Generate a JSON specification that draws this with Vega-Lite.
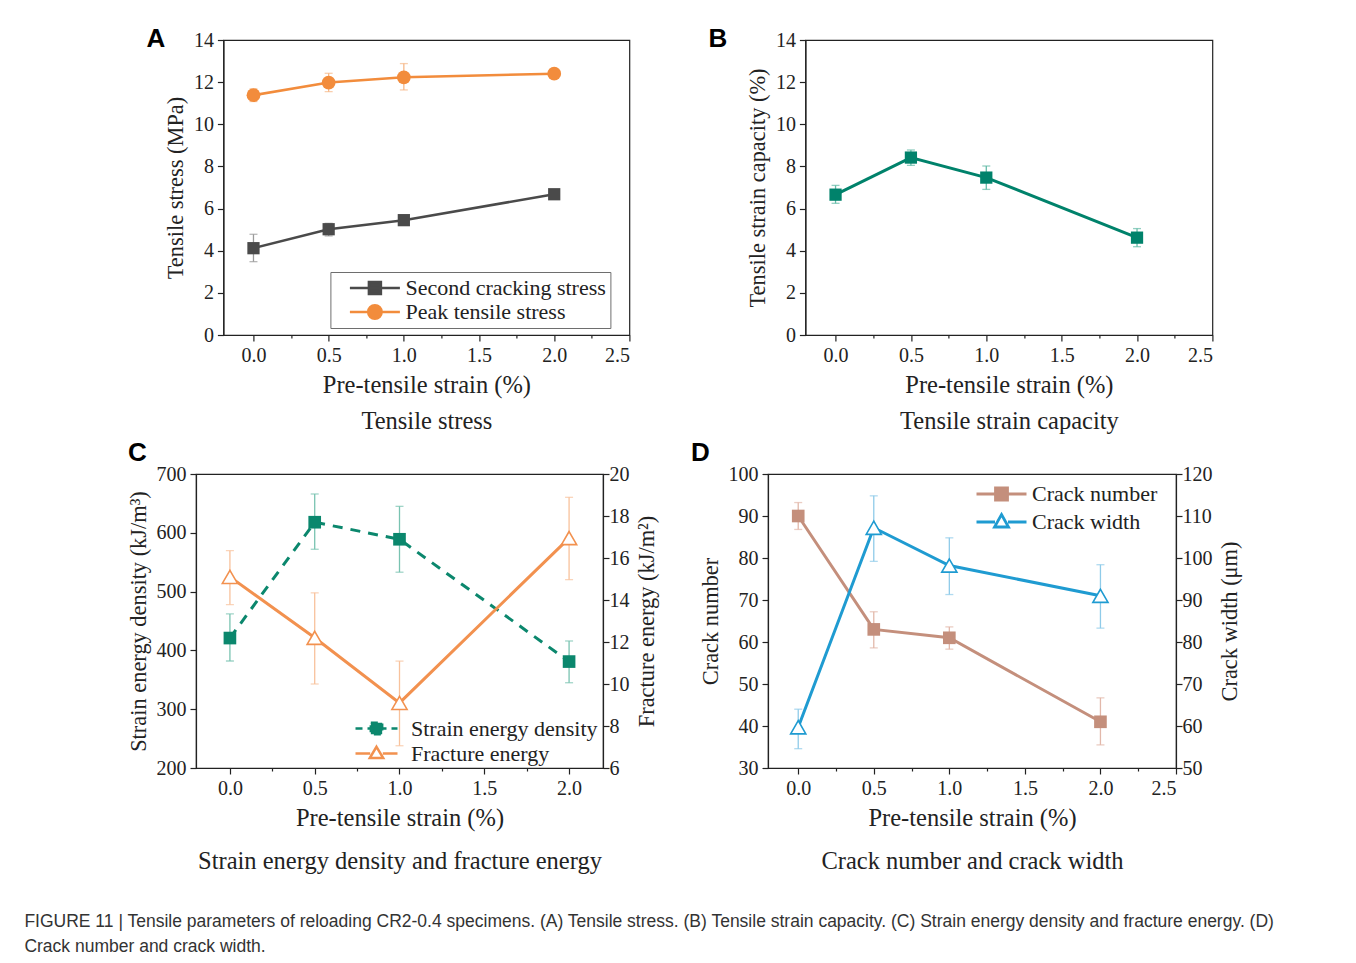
{
  "$schema": "https://vega.github.io/schema/vega-lite/v6.json",
  "background": "white",
  "padding": {"left": 24, "top": 25, "right": 5, "bottom": 5},
  "title": {
    "text": ["FIGURE 11 | Tensile parameters of reloading CR2-0.4 specimens. (A) Tensile stress. (B) Tensile strain capacity. (C) Strain energy density and fracture energy. (D)", "Crack number and crack width."],
    "orient": "bottom", "anchor": "start", "frame": "bounds", "dx": -102, "offset": 40,
    "font": "Liberation Sans", "fontSize": 17.5, "fontWeight": "normal", "lineHeight": 25, "color": "#333"
  },
  "datasets": {
    "a": [
      {"series": "Second cracking stress", "strain": 0, "value": 4.12, "lo": 3.48, "hi": 4.78},
      {"series": "Second cracking stress", "strain": 0.5, "value": 5.02, "lo": 4.7, "hi": 5.3},
      {"series": "Second cracking stress", "strain": 1, "value": 5.45, "lo": 5.35, "hi": 5.55},
      {"series": "Second cracking stress", "strain": 2, "value": 6.68, "lo": 6.6, "hi": 6.76},
      {"series": "Peak tensile stress", "strain": 0, "value": 11.38, "lo": 11.08, "hi": 11.68},
      {"series": "Peak tensile stress", "strain": 0.5, "value": 11.98, "lo": 11.55, "hi": 12.42},
      {"series": "Peak tensile stress", "strain": 1, "value": 12.23, "lo": 11.63, "hi": 12.88},
      {"series": "Peak tensile stress", "strain": 2, "value": 12.4, "lo": 12.33, "hi": 12.47}
    ],
    "b": [
      {"series": "Tensile strain capacity", "strain": 0, "value": 6.66, "lo": 6.25, "hi": 7.1},
      {"series": "Tensile strain capacity", "strain": 0.5, "value": 8.42, "lo": 8.05, "hi": 8.78},
      {"series": "Tensile strain capacity", "strain": 1, "value": 7.47, "lo": 6.91, "hi": 8.02},
      {"series": "Tensile strain capacity", "strain": 2, "value": 4.62, "lo": 4.19, "hi": 5.05}
    ],
    "c": [
      {"series": "Strain energy density", "strain": 0, "value": 421, "lo": 382, "hi": 462},
      {"series": "Strain energy density", "strain": 0.5, "value": 618, "lo": 572, "hi": 666},
      {"series": "Strain energy density", "strain": 1, "value": 589, "lo": 533, "hi": 645},
      {"series": "Strain energy density", "strain": 2, "value": 381, "lo": 345, "hi": 416},
      {"series": "Fracture energy", "strain": 0, "value": 15.1, "lo": 13.78, "hi": 16.35},
      {"series": "Fracture energy", "strain": 0.5, "value": 12.2, "lo": 10.0, "hi": 14.34},
      {"series": "Fracture energy", "strain": 1, "value": 9.1, "lo": 7.06, "hi": 11.09},
      {"series": "Fracture energy", "strain": 2, "value": 16.95, "lo": 14.97, "hi": 18.89}
    ],
    "d": [
      {"series": "Crack number", "strain": 0, "value": 90, "lo": 86.8, "hi": 93.2},
      {"series": "Crack number", "strain": 0.5, "value": 63, "lo": 58.6, "hi": 67.2},
      {"series": "Crack number", "strain": 1, "value": 61, "lo": 58.3, "hi": 63.6},
      {"series": "Crack number", "strain": 2, "value": 41, "lo": 35.5, "hi": 46.7},
      {"series": "Crack width", "strain": 0, "value": 59.7, "lo": 54.6, "hi": 64},
      {"series": "Crack width", "strain": 0.5, "value": 107.2, "lo": 99.2, "hi": 114.8},
      {"series": "Crack width", "strain": 1, "value": 98.2, "lo": 91.3, "hi": 104.8},
      {"series": "Crack width", "strain": 2, "value": 91, "lo": 83.3, "hi": 98.4}
    ]
  },
  "spacing": 5,
  "center": true,
  "resolve": {"scale": {"color": "independent", "shape": "independent"}, "legend": {"color": "independent"}},
  "vconcat": [
    {
      "spacing": 76,
      "resolve": {"scale": {"color": "independent", "shape": "independent"}, "legend": {"color": "independent"}},
      "hconcat": [
        {
          "width": 406, "height": 295,
          "title": {"text": "A", "anchor": "start", "frame": "group", "dx": -77, "offset": -22, "font": "Liberation Sans", "fontSize": 26, "fontWeight": "bold", "color": "#000"},
          "data": {"name": "a"},
          "layer": [
            {
              "transform": [{"filter": "datum.series === 'Second cracking stress'"}],
              "mark": {"type": "errorbar", "ticks": {"size": 8}, "color": "#9a9a9a", "thickness": 1.3},
              "encoding": {
                "x": {"field": "strain", "type": "quantitative", "scale": {"domain": [-0.2, 2.5], "nice": false, "zero": false}},
                "y": {"field": "lo", "type": "quantitative", "title": "Tensile stress (MPa)", "scale": {"domain": [0, 14], "nice": false, "zero": false}},
                "y2": {"field": "hi"}
              }
            },
            {
              "transform": [{"filter": "datum.series === 'Peak tensile stress'"}],
              "mark": {"type": "errorbar", "ticks": {"size": 8}, "color": "#f6b98a", "thickness": 1.3},
              "encoding": {
                "x": {"field": "strain", "type": "quantitative", "scale": {"domain": [-0.2, 2.5], "nice": false, "zero": false}},
                "y": {"field": "lo", "type": "quantitative", "title": "Tensile stress (MPa)", "scale": {"domain": [0, 14], "nice": false, "zero": false}},
                "y2": {"field": "hi"}
              }
            },
            {
              "mark": {"type": "line", "strokeWidth": 2.5},
              "encoding": {
                "x": {"field": "strain", "type": "quantitative", "scale": {"domain": [-0.2, 2.5], "nice": false, "zero": false},
                  "axis": {"title": ["Pre-tensile strain (%)", "Tensile stress"], "titleLineHeight": 36, "values": [0, 0.25, 0.5, 0.75, 1, 1.25, 1.5, 1.75, 2, 2.25, 2.5], "labelExpr": "datum.value % 0.5 === 0 ? format(datum.value, '.1f') : ''", "tickSize": {"condition": {"test": "datum.value % 0.5 === 0", "value": 6}, "value": 3}}},
                "y": {"field": "value", "type": "quantitative", "title": "Tensile stress (MPa)", "scale": {"domain": [0, 14], "nice": false, "zero": false},
                  "axis": {"values": [0, 1, 2, 3, 4, 5, 6, 7, 8, 9, 10, 11, 12, 13, 14], "labelExpr": "datum.value % 2 === 0 ? datum.label : ''", "tickSize": {"condition": {"test": "datum.value % 2 === 0", "value": 6}, "value": 3}}},
                "color": {"field": "series", "type": "nominal",
                  "scale": {"domain": ["Second cracking stress", "Peak tensile stress"], "range": ["#4a4a4a", "#f28c3c"]},
                  "legend": {
                    "title": null, "orient": "none", "legendX": 107, "legendY": 232,
                    "strokeColor": "#6e6e6e", "fillColor": "white", "padding": 4,
                    "labelFont": "Liberation Serif", "labelFontSize": 22, "labelColor": "#222", "labelLimit": 400,
                    "symbolSize": 2500, "symbolStrokeWidth": 2.5, "symbolOffset": 14, "labelOffset": 4, "clipHeight": 24, "rowPadding": 0,
                    "encode": {"symbols": {"update": {
                      "shape": {"signal": "datum.value === 'Peak tensile stress' ? 'M-1,0H1M0.27,0A0.27,0.27,0,1,1,-0.27,0A0.27,0.27,0,1,1,0.27,0Z' : 'M-1,0H1M-0.24,-0.24H0.24V0.24H-0.24Z'"},
                      "fill": {"signal": "datum.value === 'Peak tensile stress' ? '#f28c3c' : '#4a4a4a'"},
                      "stroke": {"signal": "datum.value === 'Peak tensile stress' ? '#f28c3c' : '#4a4a4a'"},
                      "opacity": {"value": 1}
                    }}}
                  }}
              }
            },
            {
              "transform": [{"filter": "datum.series === 'Second cracking stress'"}],
              "mark": {"type": "point", "filled": true, "shape": "square", "size": 150, "opacity": 1, "color": "#4a4a4a"},
              "encoding": {
                "x": {"field": "strain", "type": "quantitative", "scale": {"domain": [-0.2, 2.5], "nice": false, "zero": false}},
                "y": {"field": "value", "type": "quantitative", "title": "Tensile stress (MPa)", "scale": {"domain": [0, 14], "nice": false, "zero": false}}
              }
            },
            {
              "transform": [{"filter": "datum.series === 'Peak tensile stress'"}],
              "mark": {"type": "point", "filled": true, "shape": "circle", "size": 190, "opacity": 1, "color": "#f28c3c"},
              "encoding": {
                "x": {"field": "strain", "type": "quantitative", "scale": {"domain": [-0.2, 2.5], "nice": false, "zero": false}},
                "y": {"field": "value", "type": "quantitative", "title": "Tensile stress (MPa)", "scale": {"domain": [0, 14], "nice": false, "zero": false}}
              }
            }
          ]
        },
        {
          "width": 407, "height": 295,
          "title": {"text": "B", "anchor": "start", "frame": "group", "dx": -97, "offset": -22, "font": "Liberation Sans", "fontSize": 26, "fontWeight": "bold", "color": "#000"},
          "data": {"name": "b"},
          "layer": [
            {
              "mark": {"type": "errorbar", "ticks": {"size": 8}, "color": "#63bba7", "thickness": 1.3},
              "encoding": {
                "x": {"field": "strain", "type": "quantitative", "scale": {"domain": [-0.2, 2.5], "nice": false, "zero": false}},
                "y": {"field": "lo", "type": "quantitative", "title": "Tensile strain capacity (%)", "scale": {"domain": [0, 14], "nice": false, "zero": false}},
                "y2": {"field": "hi"}
              }
            },
            {
              "mark": {"type": "line", "strokeWidth": 3, "color": "#00826b"},
              "encoding": {
                "x": {"field": "strain", "type": "quantitative", "scale": {"domain": [-0.2, 2.5], "nice": false, "zero": false},
                  "axis": {"title": ["Pre-tensile strain (%)", "Tensile strain capacity"], "titleLineHeight": 36, "values": [0, 0.25, 0.5, 0.75, 1, 1.25, 1.5, 1.75, 2, 2.25, 2.5], "labelExpr": "datum.value % 0.5 === 0 ? format(datum.value, '.1f') : ''", "tickSize": {"condition": {"test": "datum.value % 0.5 === 0", "value": 6}, "value": 3}}},
                "y": {"field": "value", "type": "quantitative", "title": "Tensile strain capacity (%)", "scale": {"domain": [0, 14], "nice": false, "zero": false},
                  "axis": {"values": [0, 1, 2, 3, 4, 5, 6, 7, 8, 9, 10, 11, 12, 13, 14], "labelExpr": "datum.value % 2 === 0 ? datum.label : ''", "tickSize": {"condition": {"test": "datum.value % 2 === 0", "value": 6}, "value": 3}}}
              }
            },
            {
              "mark": {"type": "point", "filled": true, "shape": "square", "size": 150, "opacity": 1, "color": "#00826b"},
              "encoding": {
                "x": {"field": "strain", "type": "quantitative", "scale": {"domain": [-0.2, 2.5], "nice": false, "zero": false}},
                "y": {"field": "value", "type": "quantitative", "title": "Tensile strain capacity (%)", "scale": {"domain": [0, 14], "nice": false, "zero": false}}
              }
            }
          ]
        }
      ]
    },
    {
      "spacing": 31,
      "resolve": {"scale": {"color": "independent", "shape": "independent"}, "legend": {"color": "independent"}},
      "hconcat": [
        {
          "width": 407, "height": 294,
          "title": {"text": "C", "anchor": "start", "frame": "group", "dx": -68, "offset": -2, "font": "Liberation Sans", "fontSize": 26, "fontWeight": "bold", "color": "#000"},
          "data": {"name": "c"},
          "resolve": {"scale": {"y": "independent"}},
          "layer": [
            {
              "transform": [{"filter": "datum.series === 'Strain energy density'"}],
              "layer": [
                {
                  "mark": {"type": "errorbar", "ticks": {"size": 8}, "color": "#79c3b1", "thickness": 1.3},
                  "encoding": {
                    "x": {"field": "strain", "type": "quantitative", "scale": {"domain": [-0.2, 2.2], "nice": false, "zero": false}},
                    "y": {"field": "lo", "type": "quantitative", "title": "Strain energy density (kJ/m³)", "scale": {"domain": [200, 700], "nice": false, "zero": false}},
                    "y2": {"field": "hi"}
                  }
                },
                {
                  "mark": {"type": "line", "strokeWidth": 3, "strokeDash": [10, 8]},
                  "encoding": {
                    "x": {"field": "strain", "type": "quantitative", "scale": {"domain": [-0.2, 2.2], "nice": false, "zero": false},
                      "axis": {"title": ["Pre-tensile strain (%)", "Strain energy density and fracture energy"], "titleLineHeight": 43, "values": [0, 0.25, 0.5, 0.75, 1, 1.25, 1.5, 1.75, 2], "labelExpr": "datum.value % 0.5 === 0 ? format(datum.value, '.1f') : ''", "tickSize": {"condition": {"test": "datum.value % 0.5 === 0", "value": 6}, "value": 3}}},
                    "y": {"field": "value", "type": "quantitative", "title": "Strain energy density (kJ/m³)", "scale": {"domain": [200, 700], "nice": false, "zero": false},
                      "axis": {"values": [200, 250, 300, 350, 400, 450, 500, 550, 600, 650, 700], "labelExpr": "datum.value % 100 === 0 ? datum.label : ''", "tickSize": {"condition": {"test": "datum.value % 100 === 0", "value": 6}, "value": 3}}},
                    "color": {"field": "series", "type": "nominal",
                      "scale": {"domain": ["Strain energy density", "Fracture energy"], "range": ["#0b876d", "#f2914f"]},
                      "legend": {
                        "title": null, "orient": "none", "legendX": 158, "legendY": 242,
                        "padding": 0,
                        "labelFont": "Liberation Serif", "labelFontSize": 22, "labelColor": "#222", "labelLimit": 400,
                        "symbolSize": 1764, "symbolStrokeWidth": 2.5, "symbolOffset": 0, "labelOffset": 12, "clipHeight": 25, "rowPadding": 0,
                        "encode": {"symbols": {"update": {
                          "shape": {"signal": "datum.value === 'Fracture energy' ? 'M-1,0H-0.3M0.3,0H1M0,-0.32L0.32,0.22H-0.32Z' : 'M-1,0H1M-0.27,-0.27H0.27V0.27H-0.27Z'"},
                          "fill": {"signal": "datum.value === 'Fracture energy' ? 'white' : '#0b876d'"},
                          "stroke": {"signal": "datum.value === 'Fracture energy' ? '#f2914f' : '#0b876d'"},
                          "strokeDash": {"signal": "datum.value === 'Fracture energy' ? [] : [7, 5]"},
                          "opacity": {"value": 1}
                        }}}
                      }}
                  }
                },
                {
                  "mark": {"type": "point", "filled": true, "shape": "square", "size": 160, "opacity": 1, "color": "#0b876d"},
                  "encoding": {
                    "x": {"field": "strain", "type": "quantitative", "scale": {"domain": [-0.2, 2.2], "nice": false, "zero": false}},
                    "y": {"field": "value", "type": "quantitative", "title": "Strain energy density (kJ/m³)", "scale": {"domain": [200, 700], "nice": false, "zero": false}}
                  }
                }
              ]
            },
            {
              "transform": [{"filter": "datum.series === 'Fracture energy'"}],
              "layer": [
                {
                  "mark": {"type": "errorbar", "ticks": {"size": 8}, "color": "#f8c29c", "thickness": 1.3},
                  "encoding": {
                    "x": {"field": "strain", "type": "quantitative", "scale": {"domain": [-0.2, 2.2], "nice": false, "zero": false}},
                    "y": {"field": "lo", "type": "quantitative", "title": "Fracture energy (kJ/m²)", "scale": {"domain": [6, 20], "nice": false, "zero": false}},
                    "y2": {"field": "hi"}
                  }
                },
                {
                  "mark": {"type": "line", "strokeWidth": 3},
                  "encoding": {
                    "x": {"field": "strain", "type": "quantitative", "scale": {"domain": [-0.2, 2.2], "nice": false, "zero": false}},
                    "y": {"field": "value", "type": "quantitative", "title": "Fracture energy (kJ/m²)", "scale": {"domain": [6, 20], "nice": false, "zero": false},
                      "axis": {"orient": "right", "titleAngle": 270, "titleBaseline": "top", "labelPadding": 0, "values": [6, 7, 8, 9, 10, 11, 12, 13, 14, 15, 16, 17, 18, 19, 20], "labelExpr": "datum.value % 2 === 0 ? datum.label : ''", "tickSize": {"condition": {"test": "datum.value % 2 === 0", "value": 6}, "value": 3}}},
                    "color": {"field": "series", "type": "nominal", "scale": {"domain": ["Strain energy density", "Fracture energy"], "range": ["#0b876d", "#f2914f"]}, "legend": null}
                  }
                },
                {
                  "mark": {"type": "point", "shape": "triangle-up", "size": 230, "opacity": 1, "fill": "white", "fillOpacity": 1, "stroke": "#f2914f", "strokeWidth": 1.6},
                  "encoding": {
                    "x": {"field": "strain", "type": "quantitative", "scale": {"domain": [-0.2, 2.2], "nice": false, "zero": false}},
                    "y": {"field": "value", "type": "quantitative", "title": "Fracture energy (kJ/m²)", "scale": {"domain": [6, 20], "nice": false, "zero": false}}
                  }
                }
              ]
            }
          ]
        },
        {
          "width": 408, "height": 294,
          "title": {"text": "D", "anchor": "start", "frame": "group", "dx": -77, "offset": -2, "font": "Liberation Sans", "fontSize": 26, "fontWeight": "bold", "color": "#000"},
          "data": {"name": "d"},
          "resolve": {"scale": {"y": "independent"}},
          "layer": [
            {
              "transform": [{"filter": "datum.series === 'Crack number'"}],
              "layer": [
                {
                  "mark": {"type": "errorbar", "ticks": {"size": 8}, "color": "#e2b8aa", "thickness": 1.3},
                  "encoding": {
                    "x": {"field": "strain", "type": "quantitative", "scale": {"domain": [-0.2, 2.5], "nice": false, "zero": false}},
                    "y": {"field": "lo", "type": "quantitative", "title": "Crack number", "scale": {"domain": [30, 100], "nice": false, "zero": false}},
                    "y2": {"field": "hi"}
                  }
                },
                {
                  "mark": {"type": "line", "strokeWidth": 3},
                  "encoding": {
                    "x": {"field": "strain", "type": "quantitative", "scale": {"domain": [-0.2, 2.5], "nice": false, "zero": false},
                      "axis": {"title": ["Pre-tensile strain (%)", "Crack number and crack width"], "titleLineHeight": 43, "values": [0, 0.25, 0.5, 0.75, 1, 1.25, 1.5, 1.75, 2, 2.25, 2.5], "labelExpr": "datum.value % 0.5 === 0 ? format(datum.value, '.1f') : ''", "tickSize": {"condition": {"test": "datum.value % 0.5 === 0", "value": 6}, "value": 3}}},
                    "y": {"field": "value", "type": "quantitative", "title": "Crack number", "scale": {"domain": [30, 100], "nice": false, "zero": false},
                      "axis": {"values": [30, 35, 40, 45, 50, 55, 60, 65, 70, 75, 80, 85, 90, 95, 100], "labelExpr": "datum.value % 10 === 0 ? datum.label : ''", "tickSize": {"condition": {"test": "datum.value % 10 === 0", "value": 6}, "value": 3}}},
                    "color": {"field": "series", "type": "nominal",
                      "scale": {"domain": ["Crack number", "Crack width"], "range": ["#c48f7c", "#1f9bd1"]},
                      "legend": {
                        "title": null, "orient": "none", "legendX": 207, "legendY": 6,
                        "padding": 0,
                        "labelFont": "Liberation Serif", "labelFontSize": 22, "labelColor": "#222", "labelLimit": 400,
                        "symbolSize": 2500, "symbolStrokeWidth": 2.8, "symbolOffset": 0, "labelOffset": 4, "clipHeight": 28, "rowPadding": 0,
                        "encode": {"symbols": {"update": {
                          "shape": {"signal": "datum.value === 'Crack width' ? 'M-1,0H-0.26M0.26,0H1M0,-0.3L0.28,0.2H-0.28Z' : 'M-1,0H1M-0.24,-0.24H0.24V0.24H-0.24Z'"},
                          "fill": {"signal": "datum.value === 'Crack width' ? 'white' : '#c48f7c'"},
                          "stroke": {"signal": "datum.value === 'Crack width' ? '#1f9bd1' : '#c48f7c'"},
                          "opacity": {"value": 1}
                        }}}
                      }}
                  }
                },
                {
                  "mark": {"type": "point", "filled": true, "shape": "square", "size": 160, "opacity": 1, "color": "#c48f7c"},
                  "encoding": {
                    "x": {"field": "strain", "type": "quantitative", "scale": {"domain": [-0.2, 2.5], "nice": false, "zero": false}},
                    "y": {"field": "value", "type": "quantitative", "title": "Crack number", "scale": {"domain": [30, 100], "nice": false, "zero": false}}
                  }
                }
              ]
            },
            {
              "transform": [{"filter": "datum.series === 'Crack width'"}],
              "layer": [
                {
                  "mark": {"type": "errorbar", "ticks": {"size": 8}, "color": "#8fcbe9", "thickness": 1.3},
                  "encoding": {
                    "x": {"field": "strain", "type": "quantitative", "scale": {"domain": [-0.2, 2.5], "nice": false, "zero": false}},
                    "y": {"field": "lo", "type": "quantitative", "title": "Crack width (μm)", "scale": {"domain": [50, 120], "nice": false, "zero": false}},
                    "y2": {"field": "hi"}
                  }
                },
                {
                  "mark": {"type": "line", "strokeWidth": 3},
                  "encoding": {
                    "x": {"field": "strain", "type": "quantitative", "scale": {"domain": [-0.2, 2.5], "nice": false, "zero": false}},
                    "y": {"field": "value", "type": "quantitative", "title": "Crack width (μm)", "scale": {"domain": [50, 120], "nice": false, "zero": false},
                      "axis": {"orient": "right", "titleAngle": 270, "titleBaseline": "top", "labelPadding": 0, "values": [50, 55, 60, 65, 70, 75, 80, 85, 90, 95, 100, 105, 110, 115, 120], "labelExpr": "datum.value % 10 === 0 ? datum.label : ''", "tickSize": {"condition": {"test": "datum.value % 10 === 0", "value": 6}, "value": 3}}},
                    "color": {"field": "series", "type": "nominal", "scale": {"domain": ["Crack number", "Crack width"], "range": ["#c48f7c", "#1f9bd1"]}, "legend": null}
                  }
                },
                {
                  "mark": {"type": "point", "shape": "triangle-up", "size": 230, "opacity": 1, "fill": "white", "fillOpacity": 1, "stroke": "#1f9bd1", "strokeWidth": 1.6},
                  "encoding": {
                    "x": {"field": "strain", "type": "quantitative", "scale": {"domain": [-0.2, 2.5], "nice": false, "zero": false}},
                    "y": {"field": "value", "type": "quantitative", "title": "Crack width (μm)", "scale": {"domain": [50, 120], "nice": false, "zero": false}}
                  }
                }
              ]
            }
          ]
        }
      ]
    }
  ],
  "config": {
    "view": {"stroke": "#222", "strokeWidth": 1.2},
    "axis": {
      "grid": false,
      "labelFont": "Liberation Serif", "labelFontSize": 20, "labelColor": "#222", "labelPadding": 4,
      "titleFont": "Liberation Serif", "titleFontSize": 24.5, "titleFontWeight": "normal", "titleColor": "#222",
      "domainColor": "#222", "domainWidth": 1.2, "tickColor": "#222", "tickWidth": 1.2
    },
    "axisY": {"titlePadding": 6, "titleFontSize": 22.4},
    "axisX": {"titlePadding": 8}
  }
}
